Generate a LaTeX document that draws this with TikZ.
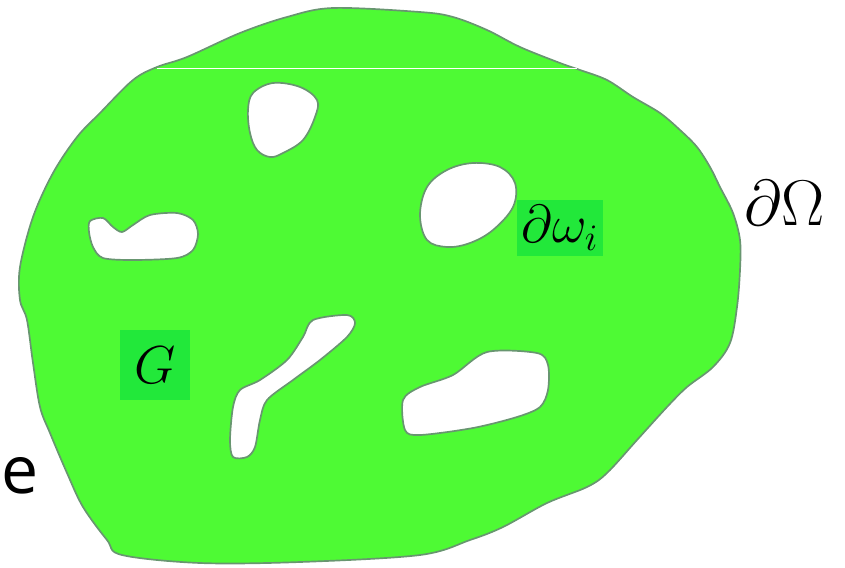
\RequirePackage{fix-cm}
\documentclass[tikz,border=0pt]{standalone}
\usepackage{amsmath,amssymb}
\usepackage{fontspec}
\usepackage{tikz}
\usetikzlibrary{positioning}
\newfontfamily\labelsans{Open Sans}
\definecolor{cdomain}{RGB}{78,250,52}
\definecolor{cedge}{RGB}{104,150,112}
\definecolor{clabel}{RGB}{34,232,58}

\begin{document}
\begin{tikzpicture}[x=0.025cm,y=-0.025cm,
    region/.style={fill=cdomain, draw=cedge, line width=1.2pt, line join=round},
    hole/.style={fill=white, draw=cedge, line width=1.2pt, line join=round},
    labelbox/.style={fill=clabel, inner sep=2pt, font=\fontsize{38}{44}\selectfont}]
    \useasboundingbox (0,0) rectangle (845,567);
    % outer domain Omega
    \draw[region] plot[smooth cycle, tension=0.55] coordinates {
      (333,8) (287,17) (240,33) (187,57) (157,67) (133,80) (100,113) (77,137)
      (53,173) (33,217) (20,267) (20,300) (27,320) (33,363) (40,407) (50,433)
      (67,473) (83,507) (107,540) (122,555) (200,563) (300,562) (420,555)
      (470,540) (503,527) (547,503) (587,487) (607,473) (637,440) (667,407)
      (687,387) (713,367) (730,343) (737,307) (740,270) (740,240) (733,213)
      (720,187) (710,167) (697,147) (680,130) (660,113) (633,97) (607,80)
      (580,70) (560,63) (520,47) (487,30) (453,17) (420,12)};
    \draw[white, line width=0.6pt] (157,68) -- (577,68);
    % holes omega_i
    \draw[hole] plot[smooth cycle, tension=0.6] coordinates {
      (273,83) (300,87) (317,100) (315,117) (303,140) (283,153) (270,157)
      (257,150) (250,133) (248,110) (253,93)};
    \draw[hole] plot[smooth cycle, tension=0.5] coordinates {
      (90,221) (103,218) (113,227) (122,232) (133,225) (150,215) (177,213)
      (193,220) (198,234) (193,250) (177,258) (133,260) (103,258) (93,247)
      (89,232)};
    \draw[hole] plot[smooth cycle, tension=0.6] coordinates {
      (427,187) (447,170) (473,163) (500,167) (515,183) (513,207) (493,230)
      (470,243) (447,247) (427,240) (420,215)};
    \draw[hole] plot[smooth cycle, tension=0.5] coordinates {
      (313,320) (347,315) (355,323) (347,337) (320,360) (293,380) (267,400)
      (260,420) (255,447) (247,457) (233,457) (230,440) (233,407) (240,390)
      (260,380) (287,360) (303,337)};
    \draw[hole] plot[smooth cycle, tension=0.5] coordinates {
      (403,400) (420,387) (453,375) (487,352) (537,353) (548,365) (548,390)
      (540,407) (517,417) (473,428) (420,435) (405,430)};
    % labels
    \node[labelbox, minimum width=61pt, minimum height=40pt] (bdhole) at (560,228) {$\partial\omega_i$};
    \node[labelbox, minimum width=50pt, minimum height=50pt] (dom) at (155,365) {$G$};
    \node[font=\fontsize{46}{54}\selectfont, inner sep=0pt] (bdouter) at (785,203) {$\partial\Omega$};
    \node[font=\labelsans\fontsize{47}{54}\selectfont, inner sep=0pt, anchor=base west] (elbl) at (1,493) {e};
\end{tikzpicture}
\end{document}
